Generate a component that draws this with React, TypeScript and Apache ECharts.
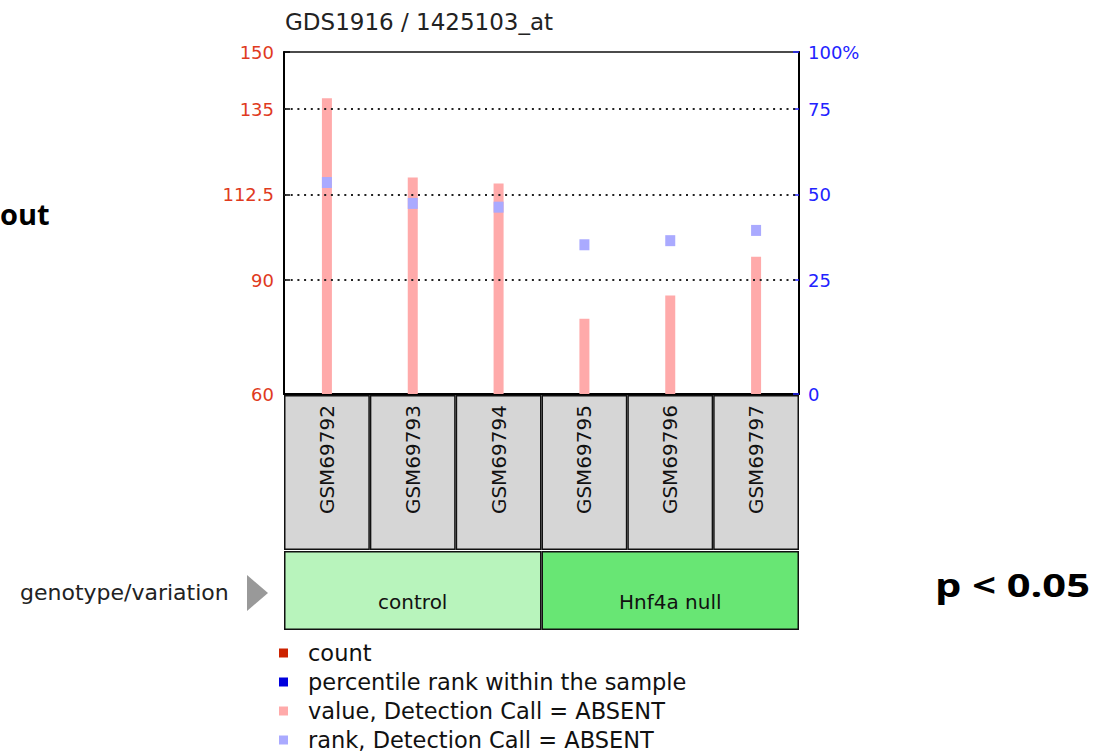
import React, { useEffect, useRef } from "react";
import * as echarts from "echarts";

const titleText = "GDS1916 / 1425103_at";
const samples = ["GSM69792", "GSM69793", "GSM69794", "GSM69795", "GSM69796", "GSM69797"];
const countValues = [137.8, 117.0, 115.4, 79.8, 85.9, 96.1];
const rankPercentiles = [53.5, 47.4, 46.3, 35.3, 36.5, 39.5];
const groups = ["control", "Hnf4a null"];
const groupColors = ["#b8f4bc", "#68e674"];
const leftTicks = [60, 90, 112.5, 135, 150];
const rightTicks = [0, 25, 50, 75, 100];
const legendLabels = [
  "count",
  "percentile rank within the sample",
  "value, Detection Call = ABSENT",
  "rank, Detection Call = ABSENT",
];
const legendColors = ["#cc2200", "#0000dd", "#ffaaaa", "#aaaaff"];

// map a percentile on the right axis onto the left axis scale (ticks are paired)
function rankToLeft(p: number): number {
  for (let i = 0; i < rightTicks.length - 1; i++) {
    if (p <= rightTicks[i + 1]) {
      const t = (p - rightTicks[i]) / (rightTicks[i + 1] - rightTicks[i]);
      return leftTicks[i] + t * (leftTicks[i + 1] - leftTicks[i]);
    }
  }
  return leftTicks[leftTicks.length - 1];
}

const FONT = "DejaVu Sans";

export default function App() {
  const ref = useRef<HTMLDivElement>(null);
  useEffect(() => {
    if (!ref.current) return;
    const chart = echarts.init(ref.current, null, { renderer: "svg" });
    const legendRowY = [653, 682, 711, 740];
    const graphics: any[] = [
      {
        type: "text",
        x: 285,
        y: 22,
        style: { text: titleText, fontSize: 23, fontFamily: FONT, fill: "#222", verticalAlign: "middle", align: "left" },
      },
      {
        type: "text",
        x: 0,
        y: 213,
        style: { text: "out", fontSize: 29, fontWeight: "bold", fontFamily: "Open Sans", fill: "#000", verticalAlign: "middle", align: "left" },
      },
      {
        type: "text",
        x: 935,
        y: 584,
        scaleX: 1.3,
        style: { text: "p < 0.05", fontSize: 32, fontWeight: "bold", fontFamily: "Open Sans", fill: "#000", verticalAlign: "middle", align: "left" },
      },
      {
        type: "text",
        x: 20,
        y: 592,
        style: { text: "genotype/variation", fontSize: 22, fontFamily: FONT, fill: "#222", verticalAlign: "middle", align: "left" },
      },
      {
        type: "polygon",
        shape: { points: [[247, 575], [268, 593], [247, 611]] },
        style: { fill: "#999999" },
      },
    ];
    legendLabels.forEach((lab, i) => {
      graphics.push({
        type: "rect",
        shape: { x: 279, y: legendRowY[i] - 4.5, width: 9, height: 9 },
        style: { fill: legendColors[i] },
      });
      graphics.push({
        type: "text",
        x: 308,
        y: legendRowY[i],
        style: { text: lab, fontSize: 22.5, fontFamily: FONT, fill: "#111", verticalAlign: "middle", align: "left" },
      });
    });

    chart.setOption({
      animation: false,
      grid: [
        { left: 284, top: 52, width: 515, height: 342, show: true, borderColor: "#111", borderWidth: 1.5 },
        { left: 284, top: 395, width: 515, height: 155 },
        { left: 284, top: 551, width: 515, height: 79 },
      ],
      xAxis: [
        {
          gridIndex: 0,
          type: "category",
          data: samples,
          axisLine: { lineStyle: { color: "#000", width: 2 } },
          axisTick: { alignWithLabel: true, inside: true, length: 5, lineStyle: { color: "#000", width: 1.5 } },
          axisLabel: { show: false },
        },
        { gridIndex: 1, type: "category", data: samples, show: false },
        { gridIndex: 2, type: "category", data: groups, show: false },
      ],
      yAxis: [
        {
          gridIndex: 0,
          type: "value",
          min: 60,
          max: 150,
          startValue: 60,
          axisLine: { show: true, lineStyle: { color: "#000", width: 2 } },
          axisTick: { show: true, inside: true, length: 6, customValues: leftTicks, lineStyle: { color: "#000", width: 1.5 } },
          axisLabel: {
            customValues: leftTicks,
            color: "#e03a1e",
            fontSize: 18,
            fontFamily: FONT,
            margin: 10,
            formatter: (v: number) => String(v),
          },
          splitLine: { show: false },
        },
        {
          gridIndex: 0,
          type: "value",
          position: "right",
          min: 60,
          max: 150,
          axisLine: { show: true, lineStyle: { color: "#000", width: 2 } },
          axisTick: { show: true, inside: true, length: 6, customValues: leftTicks, lineStyle: { color: "#2222ff", width: 1.5 } },
          axisLabel: {
            customValues: leftTicks,
            color: "#2222ff",
            fontSize: 18,
            fontFamily: FONT,
            margin: 9,
            formatter: (v: number) => {
              const idx = leftTicks.indexOf(v);
              const r = idx >= 0 ? rightTicks[idx] : v;
              return r === 100 ? "100%" : String(r);
            },
          },
          splitLine: { show: false },
        },
        { gridIndex: 1, type: "value", min: 0, max: 1, show: false },
        { gridIndex: 2, type: "value", min: 0, max: 1, show: false },
      ],
      series: [
        {
          name: "value, Detection Call = ABSENT",
          type: "bar",
          xAxisIndex: 0,
          yAxisIndex: 0,
          data: countValues,
          barWidth: 10,
          clip: true,
          itemStyle: { color: "#ffaaaa" },
          z: 2,
          markLine: {
            silent: true,
            symbol: ["none", "none"],
            label: { show: false },
            lineStyle: { color: "#222", width: 2, type: [2, 4.7] },
            data: [{ yAxis: 90 }, { yAxis: 112.5 }, { yAxis: 135 }],
          },
        },
        {
          name: "rank, Detection Call = ABSENT",
          type: "scatter",
          xAxisIndex: 0,
          yAxisIndex: 1,
          data: rankPercentiles.map(rankToLeft),
          symbol: "rect",
          symbolSize: [10, 11],
          itemStyle: { color: "#aaaaff", opacity: 1 },
          z: 4,
        },
        {
          name: "samples",
          type: "bar",
          xAxisIndex: 1,
          yAxisIndex: 2,
          data: samples.map(() => 1),
          barWidth: "100%",
          itemStyle: { color: "#d6d6d6", borderColor: "#111", borderWidth: 1.5 },
          label: {
            show: true,
            formatter: "{b}",
            position: "insideTop",
            distance: 10,
            rotate: 90,
            align: "right",
            verticalAlign: "middle",
            fontSize: 20,
            fontFamily: FONT,
            color: "#111",
          },
        },
        {
          name: "groups",
          type: "bar",
          xAxisIndex: 2,
          yAxisIndex: 3,
          data: groups.map((g, i) => ({ value: 1, itemStyle: { color: groupColors[i] } })),
          barWidth: "100%",
          itemStyle: { borderColor: "#111", borderWidth: 1.5 },
          label: {
            show: true,
            formatter: "{b}",
            position: "insideBottom",
            distance: 18,
            fontSize: 20,
            fontFamily: FONT,
            color: "#111",
          },
        },
      ],
      graphic: graphics,
    });
    return () => chart.dispose();
  }, []);
  return <div ref={ref} style={{ position: "fixed", left: 0, top: 0, width: 1097, height: 753, background: "#fff" }} />;
}
